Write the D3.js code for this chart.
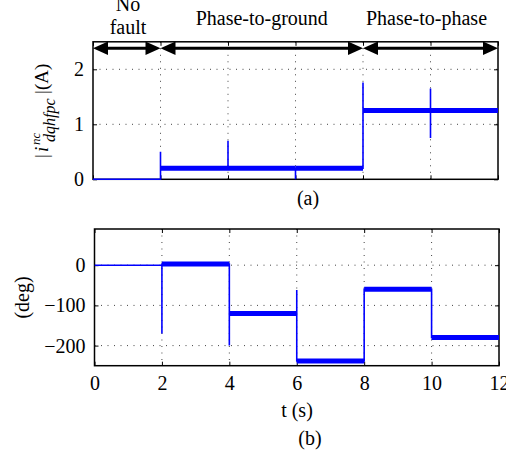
<!DOCTYPE html>
<html>
<head>
<meta charset="utf-8">
<script src="https://cdn.jsdelivr.net/npm/d3@7"></script>
<style>
  body { margin: 0; background: #fff; }
  svg { display: block; }
  text { font-family: "Liberation Serif", "Times New Roman", serif; fill: #000; }
</style>
</head>
<body>
<svg width="506" height="453"></svg>
<script>
// ---- data ----
const timeTicks = [0, 2, 4, 6, 8, 10, 12];
const magTicks = [0, 1, 2];
const angTicks = [0, -100, -200];

// phases shown by the arrows on top
const phaseStart = [0, 2, 8];
const phaseEnd = [2, 8, 12];
const phaseLabels = [["No", "fault"], ["Phase-to-ground"], ["Phase-to-phase"]];

// (a) magnitude trace: steps and spikes
const magT = [0, 2, 2, 2, 4, 4, 4, 6, 6, 6, 8, 8, 8, 10, 10, 10, 10, 12];
const magV = [0, 0, 0.50, 0.20, 0.20, 0.70, 0.20, 0.20, 0.0, 0.20, 0.20, 1.76, 1.25, 1.25, 1.65, 0.75, 1.25, 1.25];
// noisy plateaus
const magSegStart = [2, 4, 6, 8, 10];
const magSegEnd = [4, 6, 8, 10, 12];
const magLevel = [0.20, 0.20, 0.20, 1.25, 1.25];

// (b) angle trace
const angT = [0, 2, 2, 2, 4, 4, 4, 6, 6, 6, 8, 8, 10, 10, 12];
const angV = [0, 0, -170, 3, 3, -200, -120, -120, -62, -238, -238, -60, -60, -180, -180];
const angSegStart = [2, 4, 6, 8, 10];
const angSegEnd = [4, 6, 8, 10, 12];
const angLevel = [3, -120, -238, -60, -180];

const svg = d3.select("svg");
const blue = "#0000ff";
const serif = "Liberation Serif, Times New Roman, serif";

// ---- scales ----
let xTop = d3.scaleLinear().domain([0, 12]).range([93, 498]);
let yTop = d3.scaleLinear().domain([0, 2.5]).range([179.3, 41.8]);
let xBot = d3.scaleLinear().domain([0, 12]).range([94.5, 499]);
let yBot = d3.scaleLinear().domain([-250, 90]).range([365.7, 229]);

function panel(x, y, yTicks, showX, id) {
    const [x0, x1] = x.range();
    const [y0, y1] = y.range();
    const g = svg.append("g");

    // dotted grid
    g.selectAll(".gx")
        .data(timeTicks.filter((d) => d > 0 && d < 12))
        .enter()
        .append("line")
        .attr("x1", (d) => x(d)).attr("x2", (d) => x(d))
        .attr("y1", y1).attr("y2", y0)
        .attr("stroke", "#444").attr("stroke-width", 1)
        .attr("stroke-dasharray", "1,5.5");
    g.selectAll(".gy")
        .data(yTicks.filter((d) => y(d) > y1 + 2 && y(d) < y0 - 2))
        .enter()
        .append("line")
        .attr("x1", x0).attr("x2", x1)
        .attr("y1", (d) => y(d)).attr("y2", (d) => y(d))
        .attr("stroke", "#444").attr("stroke-width", 1)
        .attr("stroke-dasharray", "1,5.5");

    // ticks, inward on all four sides
    const left = g.append("g").attr("transform", `translate(${x0},0)`)
        .call(d3.axisLeft(y).tickValues(yTicks).tickSize(-4).tickPadding(9)
            .tickFormat(d3.format("d")));
    const right = g.append("g").attr("transform", `translate(${x1},0)`)
        .call(d3.axisRight(y).tickValues(yTicks).tickSize(-4).tickFormat(""));
    const bottom = g.append("g").attr("transform", `translate(0,${y0})`)
        .call(d3.axisBottom(x).tickValues(timeTicks).tickSize(-4).tickPadding(10)
            .tickFormat(showX ? d3.format("d") : ""));
    const top = g.append("g").attr("transform", `translate(0,${y1})`)
        .call(d3.axisTop(x).tickValues(timeTicks).tickSize(-4).tickFormat(""));
    [left, right, bottom, top].forEach((a) => {
        a.select(".domain").remove();
        a.selectAll("line").attr("stroke", "#000").attr("stroke-width", 1);
        a.selectAll("text")
            .attr("font-family", serif)
            .attr("font-size", "20px").attr("fill", "#000");
    });

    // frame
    g.append("rect")
        .attr("x", x0).attr("y", y1)
        .attr("width", x1 - x0).attr("height", y0 - y1)
        .attr("fill", "none").attr("stroke", "#000").attr("stroke-width", 1.5);

    svg.append("clipPath").attr("id", id)
        .append("rect")
        .attr("x", x0).attr("y", y1 - 1)
        .attr("width", x1 - x0).attr("height", y0 - y1 + 2);
    return g;
}

function trace(x, y, ts, vs, segS, segE, segL, id) {
    const g = svg.append("g").attr("clip-path", `url(#${id})`);
    const line = d3.line().x((d) => x(d[0])).y((d) => y(d[1]));
    // noise band of each plateau
    segS.forEach((s, i) => {
        g.append("path")
            .attr("d", line([[s, segL[i]], [segE[i], segL[i]]]))
            .attr("stroke", blue).attr("stroke-width", 5).attr("fill", "none");
    });
    g.append("path")
        .attr("d", line(ts.map((t, i) => [t, vs[i]])))
        .attr("stroke", blue).attr("stroke-width", 1.6)
        .attr("fill", "none").attr("stroke-linejoin", "miter");
}

panel(xTop, yTop, magTicks, false, "clipTop");
panel(xBot, yBot, angTicks, true, "clipBot");
trace(xTop, yTop, magT, magV, magSegStart, magSegEnd, magLevel, "clipTop");
trace(xBot, yBot, angT, angV, angSegStart, angSegEnd, angLevel, "clipBot");

// ---- phase arrows ----
const arrowY = 48.3;
const arrows = svg.append("g");
phaseStart.forEach((s, i) => {
    const a = xTop(s), b = xTop(phaseEnd[i]);
    arrows.append("line")
        .attr("x1", a + 5).attr("x2", b - 5)
        .attr("y1", arrowY).attr("y2", arrowY)
        .attr("stroke", "#000").attr("stroke-width", 3);
    arrows.append("path")
        .attr("d", `M${a},${arrowY} L${a + 15},${arrowY - 6.7} L${a + 15},${arrowY + 6.7} Z`)
        .attr("fill", "#000");
    arrows.append("path")
        .attr("d", `M${b},${arrowY} L${b - 15},${arrowY - 6.7} L${b - 15},${arrowY + 6.7} Z`)
        .attr("fill", "#000");
    const cx = (a + b) / 2 - (i == 2 ? 4 : 0);
    const lines = phaseLabels[i];
    lines.forEach((t, j) => {
        arrows.append("text")
            .attr("x", lines.length > 1 ? a + 35 : cx)
            .attr("y", lines.length > 1 ? 11 + j * 23 : 24.5)
            .attr("text-anchor", "middle")
            .attr("font-family", serif)
            .attr("font-size", "20px")
            .text(t);
    });
});

// ---- axis titles ----
const yl = svg.append("g").attr("transform", "translate(48,111) rotate(-90)")
    .attr("font-family", serif);
yl.append("text").attr("x", -47).attr("y", 0).attr("font-size", "19px").text("|");
yl.append("text").attr("x", -41).attr("y", 0).attr("font-size", "19px")
    .attr("font-style", "italic").text("i");
yl.append("text").attr("x", -34).attr("y", -8).attr("font-size", "13px")
    .attr("font-style", "italic").text("nc");
yl.append("text").attr("x", -31).attr("y", 7).attr("font-size", "16px")
    .attr("font-style", "italic").text("dqhfpc");
yl.append("text").attr("x", 17).attr("y", 0).attr("font-size", "19px").text("|");
yl.append("text").attr("x", 21).attr("y", 0).attr("font-size", "19px").text("(A)");

svg.append("text")
    .attr("transform", "translate(29,297.5) rotate(-90)")
    .attr("text-anchor", "middle").attr("font-size", "20px")
    .attr("font-family", serif)
    .text("(deg)");

svg.append("text").attr("x", 308).attr("y", 205).attr("font-family", serif)
    .attr("text-anchor", "middle").attr("font-size", "20px").text("(a)");
svg.append("text").attr("x", 297).attr("y", 417).attr("font-family", serif)
    .attr("text-anchor", "middle").attr("font-size", "20px").text("t (s)");
svg.append("text").attr("x", 310).attr("y", 445).attr("font-family", serif)
    .attr("text-anchor", "middle").attr("font-size", "20px").text("(b)");
</script>
</body>
</html>
